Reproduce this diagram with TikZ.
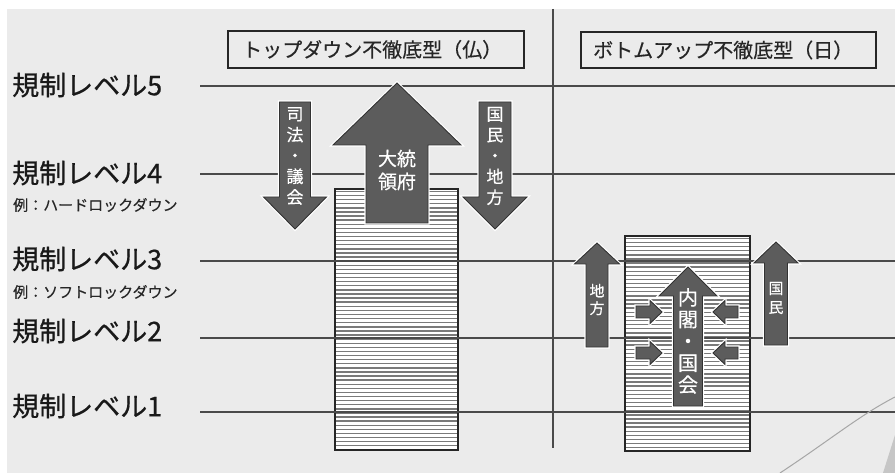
\documentclass[tikz,border=0pt]{standalone}
\usepackage{fontspec}
\setmainfont[FakeBold=0.4]{Noto Sans CJK JP}
\newfontfamily\lblfont[FakeBold=0.7]{Noto Sans CJK JP}
\definecolor{bggray}{HTML}{EBEBEB}
\definecolor{arrgray}{HTML}{5C5C5C}
\definecolor{linegray}{HTML}{4A4A4A}
\definecolor{hatchgray}{HTML}{7A7A7A}
\newcommand{\myVarrow}[6]{% tipx, tipy, headbase y, head half width, shaft half width, end y
  \path[arrowshape] (#1,#2) -- ({#1+#4},#3) -- ({#1+#5},#3) -- ({#1+#5},#6) -- ({#1-#5},#6) -- ({#1-#5},#3) -- ({#1-#4},#3) -- cycle;}
\newcommand{\myHarrow}[6]{% tipx, tipy, headbase x, head half height, shaft half height, end x
  \path[arrowshape] (#1,#2) -- (#3,{#2-#4}) -- (#3,{#2-#5}) -- (#6,{#2-#5}) -- (#6,{#2+#5}) -- (#3,{#2+#5}) -- (#3,{#2+#4}) -- cycle;}
\newcommand{\myhatch}[4]{% x1,y1,x2,y2
  \fill[white] (#1,#2) rectangle (#3,#4);
  \pgfmathsetmacro{\ystart}{#2+2.5}
  \pgfmathsetmacro{\ynext}{#2+6.6}
  \foreach \yy in {\ystart,\ynext,...,#4}{\draw[hatchgray,line width=1.4pt] (#1,\yy) -- (#3,\yy);}
  \draw[black!85,line width=1.3pt] (#1,#2) rectangle (#3,#4);}
\begin{document}
\begin{tikzpicture}[x=1pt,y=-1pt,
  arrowshape/.style={fill=arrgray,draw=black!80,line width=0.9pt,preaction={draw=white,line width=3.2pt}},
  levellabel/.style={anchor=west,inner sep=0pt,font=\lblfont\fontsize{27}{28}\selectfont,text=black!90},
  sublabel/.style={anchor=west,inner sep=0pt,font=\fontsize{15}{16}\selectfont,text=black!85},
  levelline/.style={draw=linegray,line width=1.5pt},
  titlebox/.style={draw=black!85,line width=1.2pt,fill=bggray},
  titletext/.style={anchor=west,inner sep=0pt,font=\fontsize{20}{22}\selectfont,text=black!85},
  arrtext/.style={text=white,inner sep=0pt,align=center}]
\useasboundingbox (0,0) rectangle (895,473);
\fill[white] (0,0) rectangle (895,473);
\fill[bggray] (7,9) rectangle (895,473);
% hatched blocks
\myhatch{335}{189}{458}{450}
\myhatch{625}{236}{750}{451}
% level lines
\foreach \ly in {86,174,261,338,412}{\draw[levelline] (200,\ly) -- (895,\ly);}
% divider
\draw[linegray,line width=1.5pt] (553,9) -- (553,448);
% artifacts
\draw[gray!70,line width=1pt] (780,473) .. controls (830,440) and (860,415) .. (895,397);
\fill[gray!45] (883,473) -- (895,435) -- (895,473) -- cycle;
% labels
\node[levellabel] (l5) at (12,85) {規制レベル5};
\node[levellabel] (l4) at (12,173) {規制レベル4};
\node[sublabel] (s4) at (13,205) {例：ハードロックダウン};
\node[levellabel] (l3) at (12,259) {規制レベル3};
\node[sublabel] (s3) at (13,292) {例：ソフトロックダウン};
\node[levellabel] (l2) at (12,331) {規制レベル2};
\node[levellabel] (l1) at (12,406) {規制レベル1};
% title boxes
\draw[titlebox] (228,31) rectangle (524,68);
\node[titletext] (t1) at (242,49.5) {トップダウン不徹底型（仏）};
\draw[titlebox] (581,32) rectangle (876,68);
\node[titletext] (t2) at (593,50) {ボトムアップ不徹底型（日）};
% France arrows
\myVarrow{397}{83}{145}{64}{31}{223}
\myVarrow{295}{229}{197}{31.5}{15.5}{102}
\myVarrow{495}{229}{197}{32}{16}{102}
\node[arrtext,font=\fontsize{19}{23}\selectfont] (pres) at (397,170) {大統\\領府};
\node[arrtext,font=\fontsize{17}{20.8}\selectfont] (jud) at (295,156) {司\\法\\・\\議\\会};
\node[arrtext,font=\fontsize{17}{20.8}\selectfont] (peo) at (495,156) {国\\民\\・\\地\\方};
% Japan arrows
\myVarrow{597}{243}{264}{22.5}{11}{347}
\myVarrow{776}{242}{263}{22}{11.5}{345}
\myVarrow{688}{267}{296}{29}{14.5}{406}
\myHarrow{662}{312}{650}{11.5}{6}{636}
\myHarrow{662}{353}{650}{11.5}{6}{636}
\myHarrow{713}{312}{725}{11.5}{6}{738}
\myHarrow{713}{353}{725}{11.5}{6}{738}
\node[arrtext,font=\fontsize{15}{17.5}\selectfont] (loc) at (597,299.5) {地\\方};
\node[arrtext,font=\fontsize{15}{19}\selectfont] (nat) at (776,298) {国\\民};
\node[arrtext,font=\fontsize{20}{21.8}\selectfont] (cab) at (688,341) {内\\閣\\・\\国\\会};
\end{tikzpicture}
\end{document}
